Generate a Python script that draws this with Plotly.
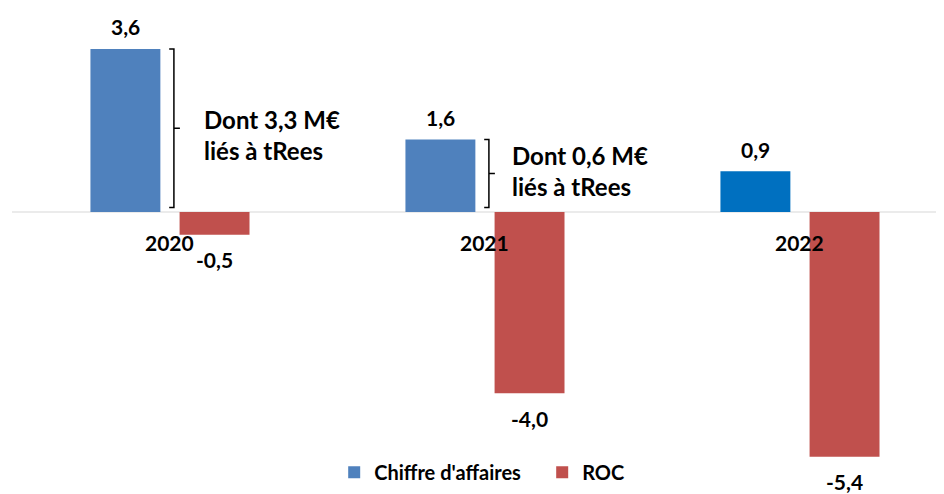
import plotly.graph_objects as go

years = ["2020", "2021", "2022"]
chiffre_affaires = [3.6, 1.6, 0.9]
roc = [-0.5, -4.0, -5.4]
ca_labels = ["3,6", "1,6", "0,9"]
roc_labels = ["-0,5", "-4,0", "-5,4"]
trees_share = {0: "Dont 3,3 M€<br>liés à tRees", 1: "Dont 0,6 M€<br>liés à tRees"}

BLUE = "#4F81BD"
BLUE_2022 = "#0070C0"
RED = "#C0504D"
FONT = "Lato"

xs = list(range(len(years)))
W = 0.222
OFF_CA = -0.251
OFF_ROC = 0.032

fig = go.Figure()
fig.add_trace(go.Bar(
    x=xs, y=chiffre_affaires, name="Chiffre d'affaires",
    marker=dict(color=[BLUE, BLUE, BLUE_2022], line=dict(width=0)),
    width=W, offset=OFF_CA, hoverinfo="skip"))
fig.add_trace(go.Bar(
    x=xs, y=roc, name="ROC",
    marker=dict(color=RED, line=dict(width=0)),
    width=W, offset=OFF_ROC, hoverinfo="skip"))

ann = []
for i, (v, t) in enumerate(zip(chiffre_affaires, ca_labels)):
    ann.append(dict(x=i + OFF_CA + W / 2, y=v, text="<b>%s</b>" % t, showarrow=False,
                    yshift=22, font=dict(family=FONT, size=21, color="black")))
for i, (v, t) in enumerate(zip(roc, roc_labels)):
    ann.append(dict(x=i + OFF_ROC + W / 2, y=v, text="<b>%s</b>" % t, showarrow=False,
                    yshift=-25, font=dict(family=FONT, size=21, color="black")))
for i, yr in enumerate(years):
    ann.append(dict(x=i, y=0, text="<b>%s</b>" % yr, showarrow=False,
                    yshift=-31, font=dict(family=FONT, size=21, color="black")))

shapes = []
text_gap = {0: 0.088, 1: 0.068}
text_shift = {0: -7, 1: 2}
for i, txt in trees_share.items():
    bx = i + OFF_CA + W + 0.043
    top = chiffre_affaires[i]
    bot = 0.1
    mid = (top + bot) / 2
    hook = 0.015
    path = (f"M {bx-hook},{top} L {bx},{top} L {bx},{bot} L {bx-hook},{bot} "
            f"M {bx},{mid} L {bx+hook+0.004},{mid}")
    shapes.append(dict(type="path", path=path, xref="x", yref="y",
                       line=dict(color="black", width=1.5)))
    ann.append(dict(x=bx + text_gap[i], y=mid, text="<b>%s</b>" % txt, showarrow=False,
                    xanchor="left", align="left", yshift=text_shift[i],
                    font=dict(family=FONT, size=24, color="black")))

fig.update_layout(
    width=936, height=486,
    margin=dict(l=4, r=0, t=0, b=0),
    paper_bgcolor="white", plot_bgcolor="white",
    barmode="overlay",
    showlegend=True,
    legend=dict(orientation="h", x=0.3457, xanchor="left", y=0.045, yanchor="middle",
                font=dict(family=FONT, size=20, color="black", weight="bold"),
                itemwidth=30, traceorder="normal",
                entrywidth=163, entrywidthmode="pixels"),
    xaxis=dict(range=[-0.5, -0.5 + 932 / 315], showticklabels=False, showgrid=False,
               zeroline=False, showline=False, fixedrange=True),
    yaxis=dict(range=[-6.225, 4.503], showticklabels=False, showgrid=False,
               zeroline=True, zerolinecolor="#EBEBEB", zerolinewidth=2,
               showline=False, fixedrange=True),
    annotations=ann,
    shapes=shapes,
)

fig.write_html("out.html")
